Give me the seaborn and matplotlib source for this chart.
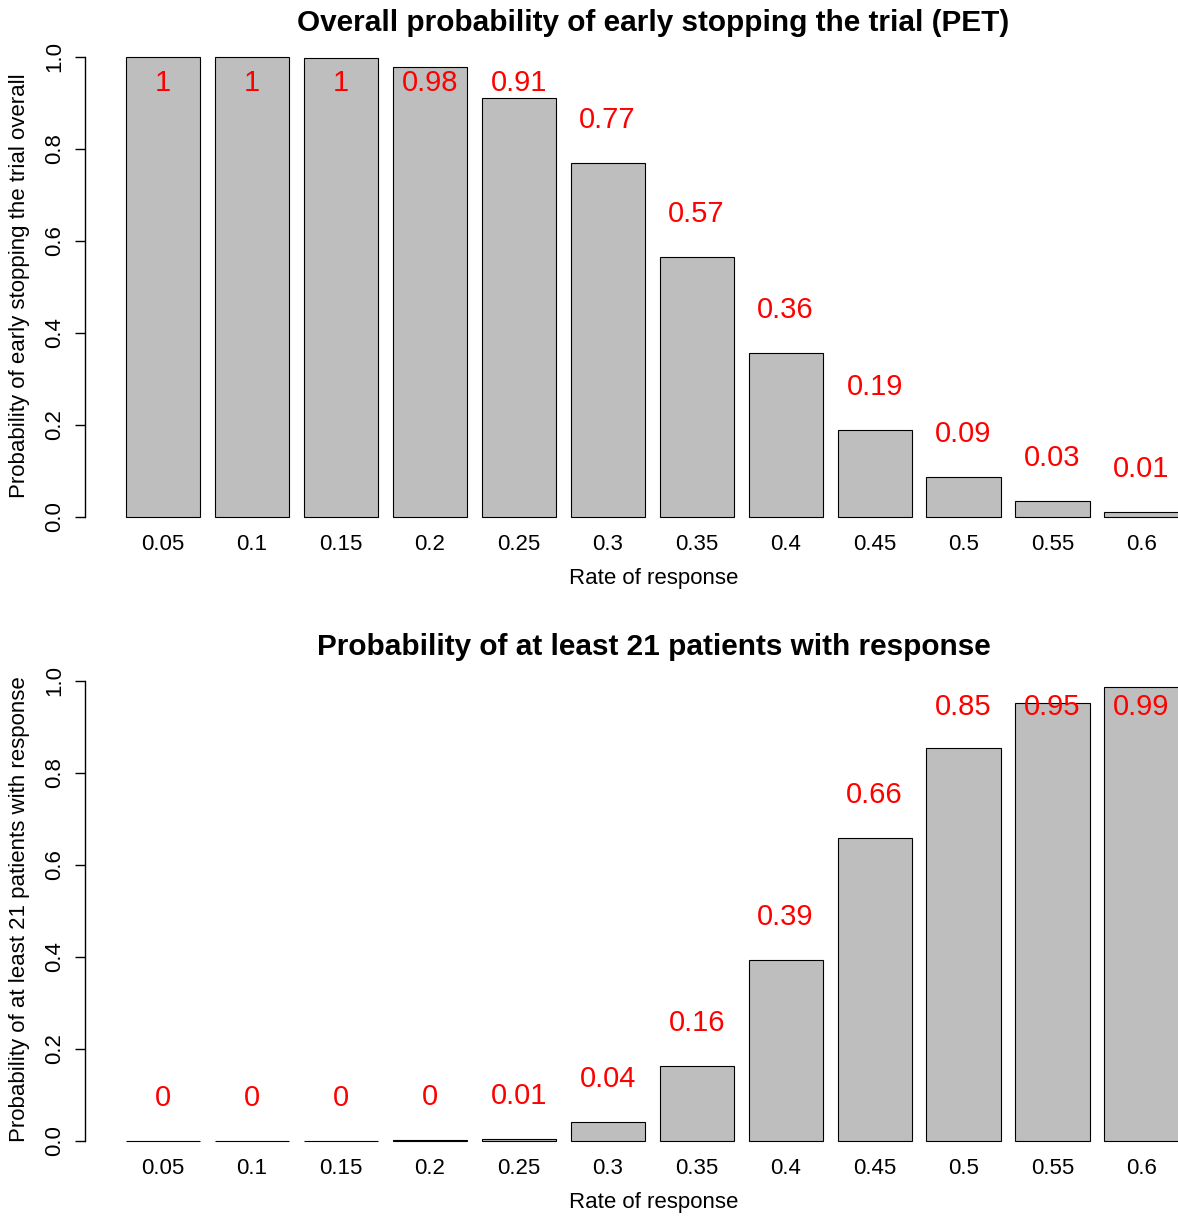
import matplotlib
matplotlib.use("Agg")
import matplotlib.pyplot as plt
import seaborn as sns
import pandas as pd
import numpy as np

# ---- data ----
rates = ["0.05", "0.1", "0.15", "0.2", "0.25", "0.3", "0.35", "0.4", "0.45", "0.5", "0.55", "0.6"]
pet_values = [1.0, 1.0, 0.998, 0.978, 0.911, 0.770, 0.565, 0.357, 0.189, 0.087, 0.034, 0.011]
pet_labels = ["1", "1", "1", "0.98", "0.91", "0.77", "0.57", "0.36", "0.19", "0.09", "0.03", "0.01"]
resp_values = [0.0, 0.0, 0.0, 0.002, 0.005, 0.041, 0.163, 0.393, 0.659, 0.855, 0.953, 0.988]
resp_labels = ["0", "0", "0", "0", "0.01", "0.04", "0.16", "0.39", "0.66", "0.85", "0.95", "0.99"]

titles = ["Overall probability of early stopping the trial (PET)",
          "Probability of at least 21 patients with response"]
ylabels = ["Probability of early stopping the trial overall",
           "Probability of at least 21 patients with response"]
xlabel = "Rate of response"
yticks = [0.0, 0.2, 0.4, 0.6, 0.8, 1.0]
ytick_labels = ["0.0", "0.2", "0.4", "0.6", "0.8", "1.0"]

sns.set_theme(style="white")
plt.rcParams["font.family"] = ["Liberation Sans", "DejaVu Sans"]
plt.rcParams["text.color"] = "black"
plt.rcParams["axes.labelcolor"] = "black"
plt.rcParams["xtick.color"] = "black"
plt.rcParams["ytick.color"] = "black"

W, H = 1178, 1217
fig = plt.figure(figsize=(W / 100, H / 100), dpi=100)

def px_axes(left, top, right, bottom):
    return fig.add_axes([left / W, 1 - bottom / H, (right - left) / W, (bottom - top) / H])

panels = [
    (px_axes(85, 38.4, 1222, 540.2), pet_values, pet_labels, titles[0], ylabels[0]),
    (px_axes(85, 662.4, 1222, 1164.2), resp_values, resp_labels, titles[1], ylabels[1]),
]

FS = 16
for ax, vals, labs, title, ylab in panels:
    df = pd.DataFrame({"rate": rates, "value": vals})
    sns.barplot(data=df, x="rate", y="value", order=rates, color="#BEBEBE",
                saturation=1, edgecolor="black", linewidth=0.8, width=1 / 1.2, ax=ax)
    ax.set_xlim(-0.875, 11.905)
    ax.set_ylim(-0.0504, 1.0404)
    for s in ["top", "right", "bottom"]:
        ax.spines[s].set_visible(False)
    ax.spines["left"].set_bounds(0, 1)
    ax.spines["left"].set_linewidth(1.0)
    ax.spines["left"].set_color("black")
    ax.set_yticks(yticks)
    ax.set_yticklabels(ytick_labels, rotation=90, va="center", ha="center", fontsize=FS)
    ax.tick_params(axis="y", left=True, length=7.2, width=1.0, color="black", pad=14.4)
    ax.tick_params(axis="x", bottom=False, length=0, pad=1.0, labelsize=FS)
    for t in ax.get_xticklabels():
        t.set_va("center_baseline")
        t.set_color("black")
    for t in ax.get_yticklabels():
        t.set_color("black")
    ax.set_xlabel(xlabel, fontsize=FS, color="black")
    ax.xaxis.set_label_coords(0.5, -38 / 501.8)
    ax.xaxis.label.set_va("center")
    ax.set_ylabel(ylab, fontsize=FS, color="black")
    ax.yaxis.set_label_coords(-65 / 1137, 0.508)
    ax.yaxis.label.set_ha("center")
    ax.yaxis.label.set_va("center")
    ax.set_title(title, fontsize=21.4, fontweight="bold", pad=5, color="black")
    ax.grid(False)
    for i, (v, lab) in enumerate(zip(vals, labs)):
        ax.text(i, min(v + 0.1, 0.95), lab, color="red", fontsize=21,
                ha="center", va="center_baseline")

fig.savefig("out.png", dpi=100)
